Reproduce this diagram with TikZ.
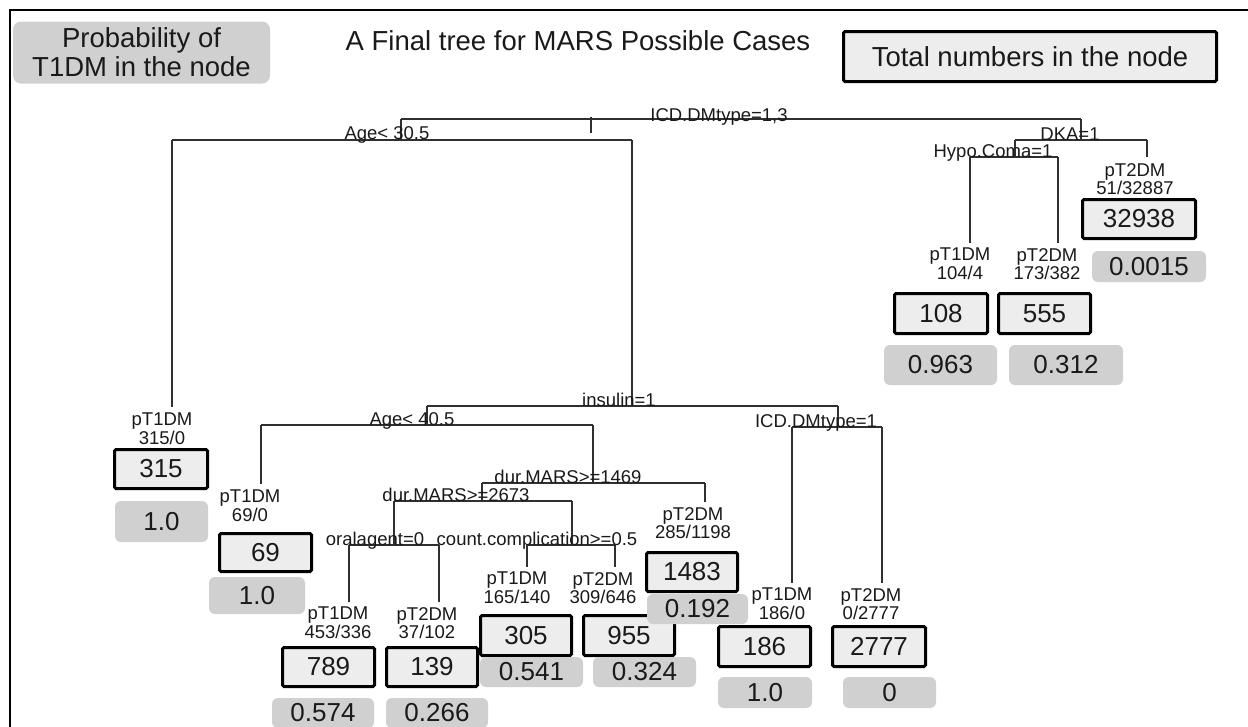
\documentclass[tikz,border=0pt]{standalone}
\usepackage{fontspec}
\setmainfont{Liberation Sans}
\usetikzlibrary{calc}

\definecolor{probgrey}{HTML}{D0D0D0}
\definecolor{boxfill}{HTML}{EDEDED}
\definecolor{treeline}{HTML}{303030}
\definecolor{ink}{HTML}{1A1A1A}

\newcommand\bigtext{\fontsize{27.5}{29}\selectfont}
\newcommand\splittext{\fontsize{18.5}{17}\selectfont}
\newcommand\numtext{\fontsize{26}{28}\selectfont}

\tikzset{
  branch/.style={draw=treeline, line width=1.4pt},
  splitlab/.style={font=\splittext, inner sep=0pt, anchor=base, text=ink},
  leaflab/.style={font=\splittext, inner sep=0pt, anchor=north, align=center, text=ink},
  numbox/.style={draw=black, line width=3pt, fill=boxfill, rounded corners=1.5pt,
                 inner sep=0pt, font=\numtext, text=ink},
  probbox/.style={fill=probgrey, rounded corners=6pt, inner sep=0pt, font=\numtext, text=ink},
  legendbox/.style={fill=probgrey, rounded corners=8pt, inner sep=0pt, align=center,
                    font=\bigtext, text=ink},
}

% boxed total: name, x1, y1, x2, y2, text (outer edges of the border)
\newcommand\numnode[6]{%
  \node[numbox, minimum width={(#4-#2-3)*1pt}, minimum height={(#5-#3-3)*1pt}]
    (#1) at ({(#2+#4)/2},{(#3+#5)/2}) {#6};}
% grey probability tag: name, x1, y1, x2, y2, text
\newcommand\probnode[6]{%
  \node[probbox, minimum width={(#4-#2)*1pt}, minimum height={(#5-#3)*1pt}]
    (#1) at ({(#2+#4)/2},{(#3+#5)/2}) {#6};}

\begin{document}
\begin{tikzpicture}[x=1pt,y=-1pt]
\useasboundingbox (0,0) rectangle (1248,726);
\clip (0,0) rectangle (1248,726);
\fill[white] (0,0) rectangle (1248,726);
\draw[line width=2.5pt] (1262,10) -- (10,10) -- (10,740);

% header
\node[legendbox, minimum width=257pt, minimum height=62pt] (legend) at (141.5,52.5)
  {Probability of\\T1DM in the node};
\node[font=\bigtext, anchor=base, inner sep=0pt, text=ink] (title) at (578,50)
  {A Final tree for MARS Possible Cases};
\node[numbox, font=\bigtext, minimum width=373pt, minimum height=50pt] (key) at (1030,56.5)
  {Total numbers in the node};

% split lines
\coordinate (rootL) at (401,119);   \coordinate (rootR) at (1081,119);
\coordinate (rootmark) at (591,117);
\coordinate (a30L) at (172,140);    \coordinate (a30R) at (632,140);
\coordinate (dkaL) at (1015,140);   \coordinate (dkaR) at (1147,140);
\coordinate (hypoL) at (970,157);   \coordinate (hypoR) at (1058,157);
\coordinate (insL) at (427,406);    \coordinate (insR) at (838,406);
\coordinate (a40L) at (261,425);    \coordinate (a40R) at (593,425);
\coordinate (icdL) at (792,427);    \coordinate (icdR) at (882,427);
\coordinate (d1469L) at (482,483);  \coordinate (d1469R) at (705,483);
\coordinate (d2673L) at (394,501);  \coordinate (d2673R) at (572,501);
\coordinate (oralL) at (349,545);   \coordinate (oralR) at (439,545);
\coordinate (compL) at (527,545);   \coordinate (compR) at (615,545);

\draw[branch] (rootL) -- (rootR);
\draw[branch] (rootmark) -- ++(0,16);
\draw[branch] (a30L) -- (a30R);
\draw[branch] (dkaL) -- (dkaR);
\draw[branch] (hypoL) -- (hypoR);
\draw[branch] (insL) -- (insR);
\draw[branch] (a40L) -- (a40R);
\draw[branch] (icdL) -- (icdR);
\draw[branch] (d1469L) -- (d1469R);
\draw[branch] (d2673L) -- (d2673R);
\draw[branch] (oralL) -- (oralR);
\draw[branch] (compL) -- (compR);

\draw[branch] (rootL) -- (rootL |- a30L);
\draw[branch] (rootR) -- (rootR |- dkaL);
\draw[branch] (dkaL) -- (dkaL |- hypoL);
\draw[branch] (a30R) -- (a30R |- insL);
\draw[branch] (insL) -- (insL |- a40L);
\draw[branch] (insR) -- (insR |- icdL);
\draw[branch] (a40R) -- (a40R |- d1469L);
\draw[branch] (d1469L) -- (d1469L |- d2673L);
\draw[branch] (d2673L) -- (d2673L |- oralL);
\draw[branch] (d2673R) -- (d2673R |- compL);

% split labels
\node[splitlab] (sRoot) at (719,121) {ICD.DMtype=1,3};
\node[splitlab] (sA30)  at (387,139) {Age< 30.5};
\node[splitlab] (sDKA)  at (1070,140) {DKA=1};
\node[splitlab] (sHypo) at (993,157) {Hypo.Coma=1};
\node[splitlab] (sIns)  at (619,406) {insulin=1};
\node[splitlab] (sA40)  at (412,425) {Age< 40.5};
\node[splitlab] (sICD)  at (816,427) {ICD.DMtype=1};
\node[splitlab] (s1469) at (568,483) {dur.MARS>=1469};
\node[splitlab] (s2673) at (456,501) {dur.MARS>=2673};
\node[splitlab] (sOral) at (375,545) {oralagent=0};
\node[splitlab] (sComp) at (537,545) {count.complication>=0.5};

% leaf labels
\node[leaflab] (l315)   at (162,413)  {pT1DM\\315/0};
\node[leaflab] (l69)    at (250,490)  {pT1DM\\69/0};
\node[leaflab] (l789)   at (338,607)  {pT1DM\\453/336};
\node[leaflab] (l139)   at (427,607)  {pT2DM\\37/102};
\node[leaflab] (l305)   at (517,572)  {pT1DM\\165/140};
\node[leaflab] (l955)   at (603,572)  {pT2DM\\309/646};
\node[leaflab] (l1483)  at (693,507)  {pT2DM\\285/1198};
\node[leaflab] (l186)   at (782,588)  {pT1DM\\186/0};
\node[leaflab] (l2777)  at (871,588)  {pT2DM\\0/2777};
\node[leaflab] (l32938) at (1135,163) {pT2DM\\51/32887};
\node[leaflab] (l108)   at (960,248)  {pT1DM\\104/4};
\node[leaflab] (l555)   at (1047,248) {pT2DM\\173/382};

% branches down to the leaves
\draw[branch] (a30L)   -- ($(a30L |- l315.north)+(0,-6)$);
\draw[branch] (a40L)   -- ($(a40L |- l69.north)+(0,-6)$);
\draw[branch] (oralL)  -- ($(oralL |- l789.north)+(0,-5)$);
\draw[branch] (oralR)  -- ($(oralR |- l139.north)+(0,-5)$);
\draw[branch] (compL)  -- ($(compL |- l305.north)+(0,-5)$);
\draw[branch] (compR)  -- ($(compR |- l955.north)+(0,-5)$);
\draw[branch] (d1469R) -- ($(d1469R |- l1483.north)+(0,-5)$);
\draw[branch] (icdL)   -- ($(icdL |- l186.north)+(0,-5)$);
\draw[branch] (icdR)   -- ($(icdR |- l2777.north)+(0,-5)$);
\draw[branch] (dkaR)   -- ($(dkaR |- l32938.north)+(0,-6)$);
\draw[branch] (hypoL)  -- ($(hypoL |- l108.north)+(0,-5)$);
\draw[branch] (hypoR)  -- ($(hypoR |- l555.north)+(0,-5)$);

% totals and probabilities
\numnode{b315}{113}{448}{209}{490}{315}
\probnode{p315}{115}{501}{208}{542}{1.0}
\numnode{b69}{218}{532}{313}{573}{69}
\probnode{p69}{209}{577}{305}{614}{1.0}
\numnode{b789}{281}{646}{376}{688}{789}
\probnode{p789}{272}{698}{374}{728}{0.574}
\numnode{b139}{385}{646}{479}{688}{139}
\probnode{p139}{386}{698}{488}{728}{0.266}
\numnode{b305}{479}{614}{573}{657}{305}
\probnode{p305}{480}{657}{583}{687}{0.541}
\numnode{b955}{582}{614}{676}{657}{955}
\probnode{p955}{593}{657}{696}{687}{0.324}
\numnode{b1483}{645}{551}{739}{593}{1483}
\probnode{p1483}{647}{594}{748}{624}{0.192}
\numnode{b186}{717}{625}{812}{668}{186}
\probnode{p186}{718}{677}{812}{708}{1.0}
\numnode{b2777}{831}{625}{927}{668}{2777}
\probnode{p2777}{843}{677}{936}{708}{0}
\numnode{b108}{893}{292}{989}{335}{108}
\probnode{p108}{884}{345}{997}{385}{0.963}
\numnode{b555}{997}{292}{1092}{335}{555}
\probnode{p555}{1009}{345}{1123}{385}{0.312}
\numnode{b32938}{1081}{198}{1197}{240}{32938}
\probnode{p32938}{1092}{251}{1206}{282}{0.0015}
\end{tikzpicture}
\end{document}
